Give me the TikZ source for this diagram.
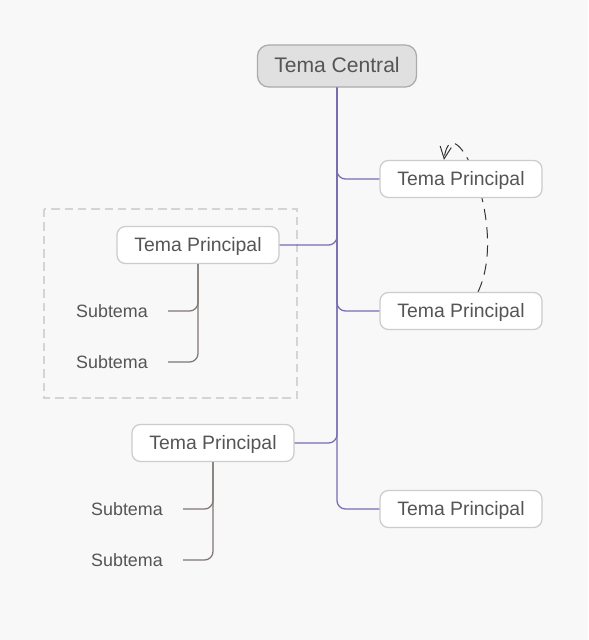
\documentclass[tikz,border=0pt]{standalone}
\usepackage{fontspec}
\setmainfont{Liberation Sans}
\usetikzlibrary{arrows.meta,backgrounds}

\definecolor{paper}{HTML}{F8F8F8}
\definecolor{txtgray}{HTML}{555555}
\definecolor{boxline}{HTML}{CCCCCC}
\definecolor{trunk}{RGB}{118,110,176}
\definecolor{twig}{HTML}{7F7874}

\begin{document}
\begin{tikzpicture}[x=0.025cm, y=-0.025cm, >={Straight Barb[length=3mm,width=2.8mm]},
	every node/.style={font=\fontsize{13.8}{16}\selectfont, text=txtgray},
	topic/.style={draw=boxline, fill=white, rounded corners=6pt, line width=0.9pt,
		minimum width=4.05cm, minimum height=0.925cm, inner sep=0pt,
		text height=2.2ex, text depth=0.5ex},
	central/.style={topic, fill=black!12, draw=black!33, rounded corners=8pt,
		minimum width=3.975cm, minimum height=1.05cm, font=\fontsize{15}{18}\selectfont},
	subtopic/.style={inner xsep=0.5cm, inner ysep=0pt, anchor=east,
		text height=2.2ex, text depth=0.5ex, font=\fontsize{12.7}{15}\selectfont},
	branch/.style={draw=trunk, line width=0.9pt, rounded corners=6pt},
	twigline/.style={draw=twig, line width=0.9pt, rounded corners=6pt},
	groupbox/.style={draw=black!17, line width=1.4pt, dash pattern=on 6pt off 3.5pt}]
	\useasboundingbox (0,0) rectangle (588,640);

	% group frame
	\draw[groupbox] (44,209) rectangle (297,398);

	% topics
	\node[central] (c) at (337,66) {Tema Central};
	\node[topic] (r1) at (461,179) {Tema Principal};
	\node[topic] (r2) at (461,311) {Tema Principal};
	\node[topic] (r3) at (461,509) {Tema Principal};
	\node[topic] (l1) at (198,245) {Tema Principal};
	\node[topic] (l2) at (213,443) {Tema Principal};

	% subtopics
	\node[subtopic] (s1) at (168,311) {Subtema};
	\node[subtopic] (s2) at (168,362) {Subtema};
	\node[subtopic] (s3) at (183,509) {Subtema};
	\node[subtopic] (s4) at (183,560) {Subtema};

	% branches
	\foreach \n/\side in {r1/west,r2/west,r3/west,l1/east,l2/east}
		\draw[branch] (c.south) |- (\n.\side);
	\foreach \p/\s in {l1/s1,l1/s2,l2/s3,l2/s4}
		\draw[twigline] (\p.south) |- (\s.east);

	\begin{scope}[on background layer]
		\fill[paper] (0,0) rectangle (588,640);
		\draw[->, black!80, line width=0.7pt, dash pattern=on 8pt off 5pt]
			([xshift=0.425cm]r2.north) .. controls +(32,-67) and +(8,-60) .. ([xshift=-0.425cm]r1.north);
	\end{scope}
\end{tikzpicture}
\end{document}
